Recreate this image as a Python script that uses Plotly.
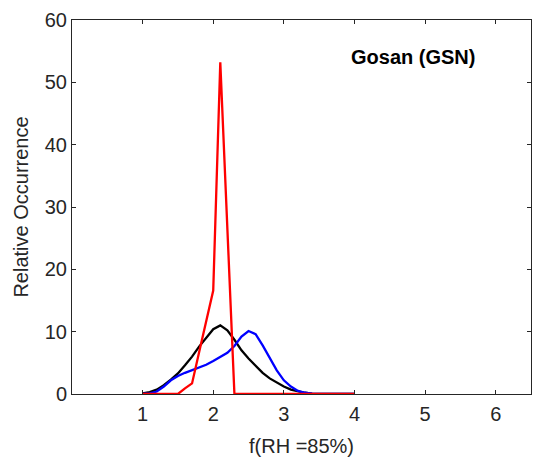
import plotly.graph_objects as go

# f(RH=85%) grid
x_vals = [1.0, 1.1, 1.2, 1.3, 1.4, 1.5, 1.6, 1.7, 1.8, 1.9, 2.0, 2.1, 2.2, 2.3, 2.4, 2.5,
          2.6, 2.7, 2.8, 2.9, 3.0, 3.1, 3.2, 3.3, 3.4, 3.5, 3.6, 3.7, 3.8, 3.9, 4.0]

black_vals = [0.1, 0.3, 0.7, 1.4, 2.3, 3.3, 4.6, 6.0, 7.6, 9.0, 10.4, 11.0, 10.2, 8.7, 7.0, 5.7,
              4.5, 3.4, 2.5, 1.8, 1.2, 0.7, 0.4, 0.2, 0.05, 0, 0, 0, 0, 0, 0]

blue_vals = [0, 0.1, 0.4, 1.2, 2.2, 2.9, 3.4, 3.8, 4.2, 4.7, 5.3, 5.9, 6.6, 7.7, 9.2, 10.1,
             9.6, 7.8, 5.7, 3.8, 2.2, 1.2, 0.5, 0.2, 0.05, 0, 0, 0, 0, 0, 0]

red_vals = [0, 0, 0, 0, 0, 0, 0.9, 1.7, 6.7, 11.6, 16.6, 53.2, 26.6, 0, 0, 0,
            0, 0, 0, 0, 0, 0, 0, 0, 0, 0, 0, 0, 0, 0, 0]

x_ticks = [1, 2, 3, 4, 5, 6]
y_ticks = [0, 10, 20, 30, 40, 50, 60]

axis_color = "#262626"
font_family = "Liberation Sans, Arial, sans-serif"

fig = go.Figure()
fig.add_trace(go.Scatter(x=x_vals, y=black_vals, mode="lines",
                         line=dict(color="black", width=2.3), showlegend=False))
fig.add_trace(go.Scatter(x=x_vals, y=blue_vals, mode="lines",
                         line=dict(color="blue", width=2.3), showlegend=False))
fig.add_trace(go.Scatter(x=x_vals, y=red_vals, mode="lines",
                         line=dict(color="red", width=2.3), showlegend=False))

fig.add_annotation(x=4.83, y=54.0, xref="x", yref="y", text="<b>Gosan (GSN)</b>",
                   showarrow=False, font=dict(family=font_family, size=20, color="black"))

fig.update_layout(
    width=533, height=462,
    margin=dict(l=72, r=2, t=20, b=68),
    paper_bgcolor="white", plot_bgcolor="white",
    font=dict(family=font_family, size=20, color=axis_color),
    xaxis=dict(range=[0, 6.5], tickvals=x_ticks, ticks="inside", ticklen=4,
               tickcolor=axis_color, showline=True, linecolor=axis_color, linewidth=1,
               mirror="ticks", showgrid=False, zeroline=False, ticklabelstandoff=2,
               title=dict(text="f(RH =85%)", font=dict(size=20), standoff=14)),
    yaxis=dict(range=[0, 60], tickvals=y_ticks, ticks="inside", ticklen=4,
               tickcolor=axis_color, showline=True, linecolor=axis_color, linewidth=1,
               mirror="ticks", showgrid=False, zeroline=False,
               title=dict(text="Relative Occurrence", font=dict(size=20), standoff=10)),
)

fig.write_html("out.html")
